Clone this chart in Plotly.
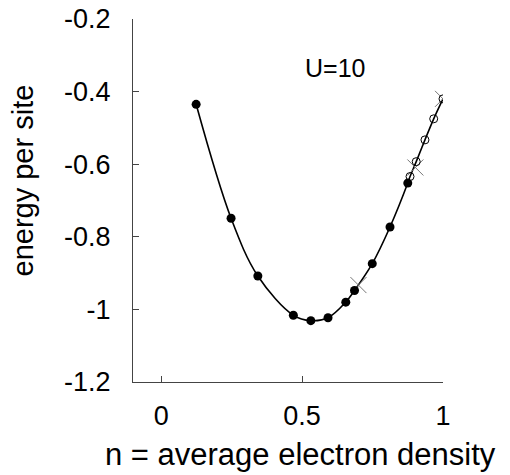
import plotly.graph_objects as go

# filled circles (numerical results)
n_filled = [0.124, 0.248, 0.343, 0.469, 0.531, 0.592, 0.655, 0.686, 0.749, 0.812, 0.875]
e_filled = [-0.435, -0.749, -0.908, -1.016, -1.031, -1.023, -0.980, -0.948, -0.874, -0.773, -0.652]
# open circles
n_open = [0.883, 0.905, 0.936, 0.967, 1.0]
e_open = [-0.634, -0.593, -0.533, -0.475, -0.420]
# crosses
n_cross = [0.700, 0.902, 1.0]
e_cross = [-0.933, -0.609, -0.420]

y_ticks = [-1.2, -1.0, -0.8, -0.6, -0.4, -0.2]
y_ticktext = ["-1.2", "-1", "-0.8", "-0.6", "-0.4", "-0.2"]
x_ticks = [0, 0.5, 1]
x_ticktext = ["0", "0.5", "1"]

font_family = "Liberation Sans, Arial, sans-serif"

n_line = n_filled + n_open
e_line = e_filled + e_open

fig = go.Figure()
fig.add_trace(go.Scatter(x=n_line, y=e_line, mode="lines",
                         line=dict(color="black", width=1.6, shape="spline", smoothing=1.0),
                         hoverinfo="skip"))
fig.add_trace(go.Scatter(x=n_cross, y=e_cross, mode="markers",
                         marker=dict(symbol="x-thin-open", size=16, color="#777",
                                     line=dict(color="#777", width=1))))
fig.add_trace(go.Scatter(x=n_open, y=e_open, mode="markers",
                         marker=dict(symbol="circle-open", size=8, color="black",
                                     line=dict(color="black", width=1))))
fig.add_trace(go.Scatter(x=n_filled, y=e_filled, mode="markers",
                         marker=dict(symbol="circle", size=9, color="black")))

fig.add_annotation(x=0.617, y=-0.335, xref="x", yref="y", text="U=10", showarrow=False,
                   xanchor="center", yanchor="middle",
                   font=dict(size=25, color="black", family=font_family))

# axis titles
fig.add_annotation(x=0.539, y=-0.201, xref="paper", yref="paper", text="n = average electron density",
                   xanchor="center", yanchor="middle",
                   showarrow=False, font=dict(size=31, color="black", family=font_family))
fig.add_annotation(x=-0.355, y=0.555, xref="paper", yref="paper", text="energy per site",
                   xanchor="center", yanchor="middle",
                   textangle=-90, showarrow=False, font=dict(size=29, color="black", family=font_family))

fig.update_layout(
    width=510, height=475,
    margin=dict(l=133, r=67, t=19, b=93),
    paper_bgcolor="white", plot_bgcolor="white",
    showlegend=False,
    font=dict(family=font_family, color="black", size=27),
)
fig.update_xaxes(range=[-0.1, 1.0], tickvals=x_ticks, ticktext=x_ticktext,
                 ticks="inside", ticklen=6, tickcolor="#444", showline=True, linecolor="#444",
                 linewidth=1, showgrid=False, zeroline=False, automargin=False,
                 ticklabelstandoff=10, ticklabeloverflow="allow", tickfont=dict(size=27))
fig.update_yaxes(range=[-1.2, -0.2], tickvals=y_ticks, ticktext=y_ticktext,
                 ticks="inside", ticklen=6, tickcolor="#444", showline=True, linecolor="#444",
                 linewidth=1, showgrid=False, zeroline=False, automargin=False,
                 ticklabelstandoff=16, ticklabeloverflow="allow", tickfont=dict(size=27))

fig.write_html("out.html", config={"displayModeBar": False},
               post_script="document.body.style.margin='0';document.body.style.overflow='hidden';")
